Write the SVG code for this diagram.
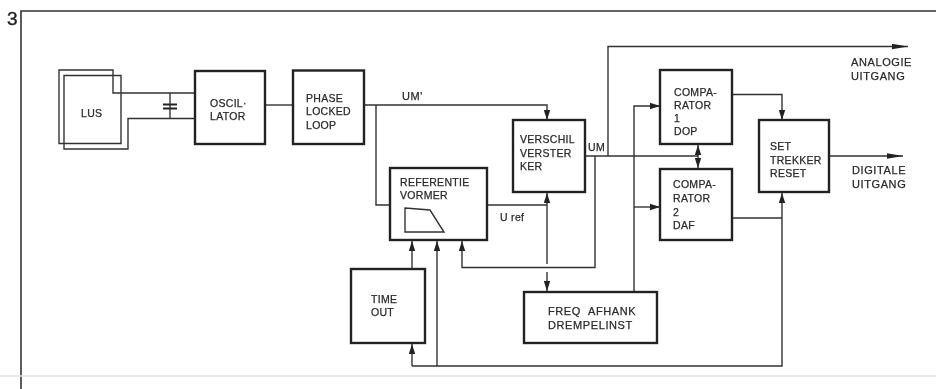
<svg xmlns="http://www.w3.org/2000/svg" width="936" height="389" viewBox="0 0 936 389">
<defs>
<style>
.bg{fill:#fff}
.box{fill:#fff;stroke:#222;stroke-width:2.4}
.w{fill:none;stroke:#333;stroke-width:1.4}
.t{font-family:"Liberation Sans",Arial,sans-serif;font-size:10.5px;fill:#2a2a2a;stroke:#2a2a2a;stroke-width:.25px;letter-spacing:.3px}
.l{font-size:11px;letter-spacing:.6px}
</style>
<marker id="a" viewBox="0 0 10 8" refX="10" refY="4" markerWidth="10" markerHeight="8" markerUnits="userSpaceOnUse" orient="auto"><path d="M0 .8L10 4L0 7.200Z" fill="#222"/></marker>
<marker id="b" viewBox="0 0 16 6" refX="16" refY="3" markerWidth="16" markerHeight="6" markerUnits="userSpaceOnUse" orient="auto"><path d="M0 .3L16 3L0 5.700Z" fill="#222"/></marker>
<filter id="s" x="-2%" y="-2%" width="104%" height="104%"><feGaussianBlur stdDeviation="0.35"/></filter>
</defs>
<rect class="bg" width="936" height="389"/>
<g filter="url(#s)">
<g id="frame">
<path d="M21 389V11H936" fill="none" stroke="#333" stroke-width="1.6"/>
<path d="M0 376H936" fill="none" stroke="#e2e2e2" stroke-width="1.5"/>
<text x="7" y="25" style="font-family:'Liberation Sans',Arial,sans-serif;font-size:19px;fill:#222;stroke:#222;stroke-width:.4px">3</text>
</g>
<g id="connectors">
<path class="w" d="M194 93H113V70H59V143.500H121V75.500H64V149H128V118.500H194"/>
<path class="w" d="M170 93V118.500"/>
<path d="M163 104.500H177M163 108.500H177" fill="none" stroke="#222" stroke-width="2.200"/>
<path class="w" d="M265 105H293"/>
<path class="w" d="M364 105H547V120" marker-end="url(#a)"/>
<path class="w" d="M376 105V205H390"/>
<path class="w" d="M585 156H698"/>
<path class="w" d="M698 156V145" marker-end="url(#a)"/>
<path class="w" d="M698 156V168" marker-end="url(#a)"/>
<path class="w" d="M608 156V46.500H908" marker-end="url(#b)"/>
<path class="w" d="M595 156V267.500H462V241" marker-end="url(#a)"/>
<path class="w" d="M487 205H547"/>
<path class="w" d="M547 264V193" marker-end="url(#a)"/>
<path class="w" d="M547 272V291" marker-end="url(#a)"/>
<path class="w" d="M634 292V106H660" marker-end="url(#a)"/>
<path class="w" d="M634 207H660" marker-end="url(#a)"/>
<path class="w" d="M732 94.500H782V120" marker-end="url(#a)"/>
<path class="w" d="M732 218H782"/>
<path class="w" d="M829 156H903" marker-end="url(#b)"/>
<path class="w" d="M412 269V241" marker-end="url(#a)"/>
<path class="w" d="M437 366V241" marker-end="url(#a)"/>
<path class="w" d="M412 366H782V193" marker-end="url(#a)"/>
<path class="w" d="M412 366V344" marker-end="url(#a)"/>
</g>
<g id="lus"><text class="t" x="81" y="117">LUS</text></g>
<g id="oscillator"><rect class="box" x="195" y="71" width="70" height="73"/><text class="t" x="210" y="107">OSCIL·</text><text class="t" x="210" y="120">LATOR</text></g>
<g id="pll"><rect class="box" x="293" y="70.500" width="71" height="73.500"/><text class="t" x="306" y="102">PHASE</text><text class="t" x="306" y="115">LOCKED</text><text class="t" x="306" y="129">LOOP</text></g>
<g id="referentie"><rect class="box" x="390" y="168" width="97" height="72"/><text class="t" x="400" y="186">REFERENTIE</text><text class="t" x="400" y="199">VORMER</text><path d="M405 208L430 210L444 232H405Z" fill="none" stroke="#333" stroke-width="1.400"/></g>
<g id="verschil"><rect class="box" x="513" y="120" width="72" height="72"/><text class="t" x="520" y="143">VERSCHIL</text><text class="t" x="520" y="157">VERSTER</text><text class="t" x="520" y="170">KER</text></g>
<g id="comparator1"><rect class="box" x="660" y="70" width="72" height="74"/><text class="t" x="674" y="96">COMPA-</text><text class="t" x="674" y="109">RATOR</text><text class="t" x="674" y="122">1</text><text class="t" x="674" y="135">DOP</text></g>
<g id="comparator2"><rect class="box" x="660" y="169" width="72" height="71"/><text class="t" x="673" y="188">COMPA-</text><text class="t" x="673" y="202">RATOR</text><text class="t" x="673" y="216">2</text><text class="t" x="673" y="229">DAF</text></g>
<g id="settrekker"><rect class="box" x="759" y="120" width="70" height="72"/><text class="t" x="770" y="150">SET</text><text class="t" x="770" y="164">TREKKER</text><text class="t" x="770" y="177">RESET</text></g>
<g id="timeout"><rect class="box" x="351" y="269" width="74" height="74"/><text class="t" x="371" y="303">TIME</text><text class="t" x="371" y="316">OUT</text></g>
<g id="freq"><rect class="box" x="524" y="292" width="133" height="51"/><text class="t l" x="548" y="315" style="word-spacing:4px">FREQ AFHANK</text><text class="t l" x="548" y="329">DREMPELINST</text></g>
<g id="labels">
<text class="t l" x="402" y="100">UM'</text>
<text class="t" x="588" y="151">UM</text>
<text class="t" x="500" y="221">U ref</text>
<text class="t l" x="851" y="66">ANALOGIE</text>
<text class="t l" x="851" y="80">UITGANG</text>
<text class="t l" x="852" y="174">DIGITALE</text>
<text class="t l" x="852" y="188">UITGANG</text>
</g>
</g>
</svg>
